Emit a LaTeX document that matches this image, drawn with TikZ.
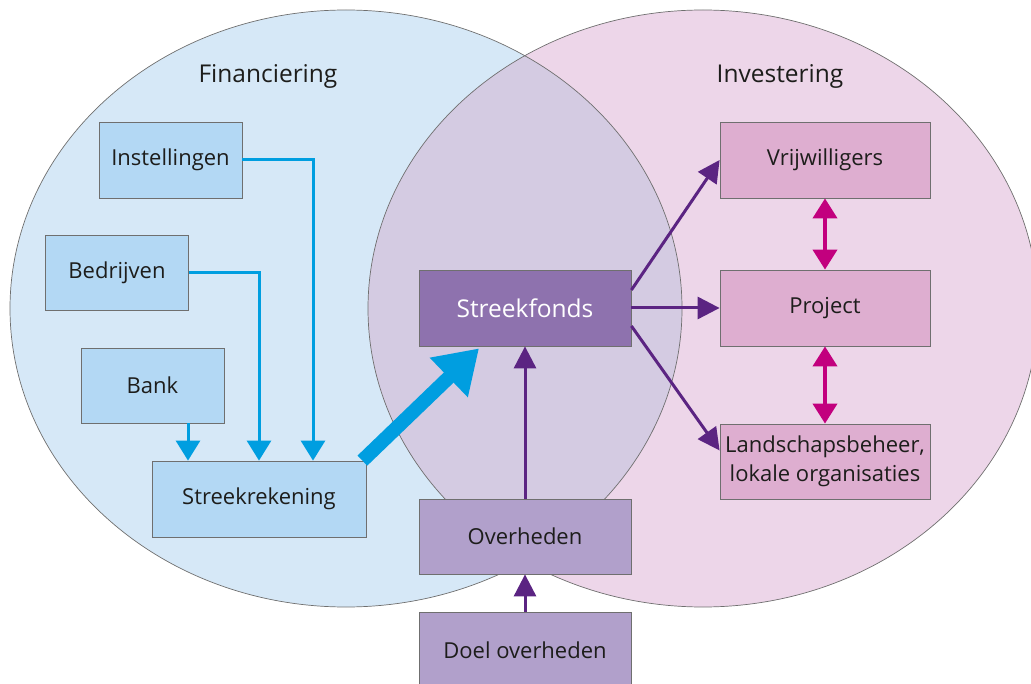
\documentclass[tikz,border=0pt]{standalone}
\usepackage{fontspec}
\setmainfont{Open Sans}
\usetikzlibrary{arrows.meta}
\definecolor{finfill}{HTML}{D6E8F7}
\definecolor{invfill}{HTML}{EDD6E9}
\definecolor{overlapfill}{HTML}{D4CBE2}
\definecolor{bluebox}{HTML}{B3D8F4}
\definecolor{fondsbox}{HTML}{8E72AE}
\definecolor{overhbox}{HTML}{B1A0CB}
\definecolor{pinkbox}{HTML}{DEAED0}
\definecolor{flowblue}{HTML}{009EE0}
\definecolor{flowpurple}{HTML}{5B2482}
\definecolor{flowmagenta}{HTML}{C2007E}
\definecolor{txt}{HTML}{1D1D1B}
\definecolor{boxline}{HTML}{6F6F6F}
\newcommand\diagfont{\fontsize{22}{29}\selectfont}
\newcommand\bigdiagfont{\fontsize{24.5}{30}\selectfont}
\tikzset{
  box/.style={draw=boxline, line width=0.8pt, inner sep=0pt, text=txt,
    font=\diagfont, align=center, minimum height=76pt},
  finbox/.style={box, fill=bluebox, minimum width=143pt},
  midbox/.style={box, fill=overhbox, minimum width=212pt},
  invbox/.style={box, fill=pinkbox, minimum width=210pt},
  blueflow/.style={draw=flowblue, line width=3pt, -{Triangle[width=24pt,length=20pt]}},
  purpleflow/.style={draw=flowpurple, line width=3pt, -{Triangle[width=22pt,length=22pt]}},
  pinkflow/.style={draw=flowmagenta, line width=4pt, {Triangle[width=24pt,length=20pt]}-{Triangle[width=24pt,length=20pt]}}
}
\begin{document}
\begin{tikzpicture}[x=1pt,y=-1pt]
\useasboundingbox (0,0) rectangle (1031,684);
\clip (0,0) rectangle (1031,684);
% the two circles
\fill[finfill] (346,308.5) ellipse [x radius=336, y radius=298.5];
\fill[invfill] (703,308.5) ellipse [x radius=335, y radius=298.5];
\begin{scope}
\clip (346,308.5) ellipse [x radius=336, y radius=298.5];
\fill[overlapfill] (703,308.5) ellipse [x radius=335, y radius=298.5];
\end{scope}
\draw[boxline, line width=0.7pt] (346,308.5) ellipse [x radius=336, y radius=298.5];
\draw[boxline, line width=0.7pt] (703,308.5) ellipse [x radius=335, y radius=298.5];
\node[text=txt, font=\bigdiagfont] (fin) at (268,76) {Financiering};
\node[text=txt, font=\bigdiagfont] (inv) at (780,76) {Investering};
% financiering
\node[finbox] (inst) at (170.5,160) {Instellingen};
\node[finbox, minimum height=75pt] (bedr) at (117,272.5) {Bedrijven};
\node[finbox, minimum height=75pt] (bank) at (152.5,385.5) {Bank};
\node[finbox, minimum width=214pt] (srek) at (259,499) {Streekrekening};
% midden
\node[midbox, fill=fondsbox, text=white, font=\bigdiagfont] (fonds) at (525,308) {Streekfonds};
\node[midbox, minimum height=75pt] (overh) at (525,536.5) {Overheden};
\node[midbox] (doel) at (525,650) {Doel overheden};
% investering
\node[invbox] (vrij) at (825,160) {Vrijwilligers};
\node[invbox] (proj) at (825,308) {Project};
\node[invbox, minimum height=75pt] (land) at (825,461.5) {Landschapsbeheer,\\lokale organisaties};
% pijlen
\draw[blueflow] (inst.east) -| ([xshift=54pt]srek.north);
\draw[blueflow] (bedr.east) -| (srek.north);
\draw[blueflow] ([xshift=35.5pt]bank.south) -- ([xshift=35.5pt]bank.south |- srek.north);
\draw[draw=flowblue, line width=14pt, -{Triangle[width=52pt,length=42pt]}]
  ([xshift=-4pt]srek.north east) -- ([xshift=-46pt,yshift=-2pt]fonds.south);
\draw[purpleflow] ([yshift=18pt]fonds.east) -- (vrij.west);
\draw[purpleflow] (fonds.east) -- (proj.west);
\draw[purpleflow] ([yshift=-18pt]fonds.east) -- ([yshift=11pt]land.west);
\draw[purpleflow] (overh.north) -- (fonds.south);
\draw[purpleflow] (doel.north) -- (overh.south);
\draw[pinkflow] (vrij.south) -- (proj.north);
\draw[pinkflow] (proj.south) -- (land.north);
\end{tikzpicture}
\end{document}
